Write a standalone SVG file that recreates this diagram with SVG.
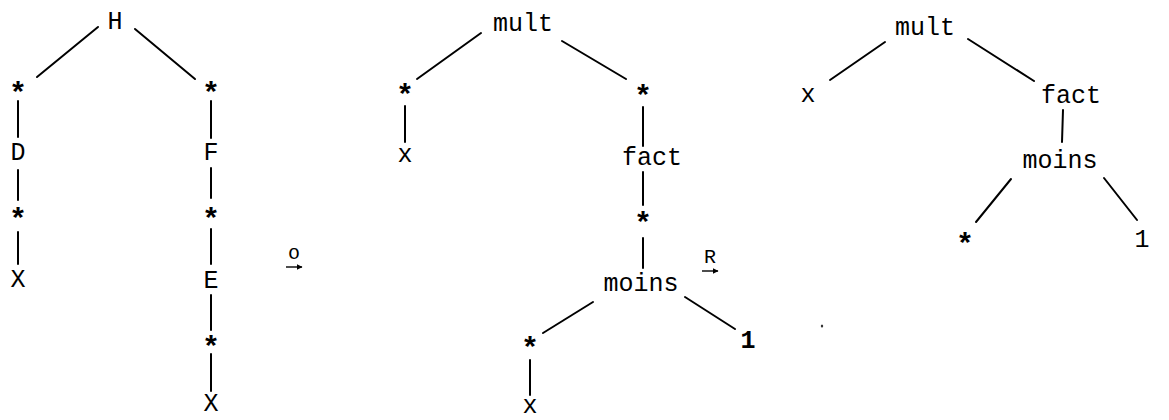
<svg xmlns="http://www.w3.org/2000/svg" width="1169" height="420" viewBox="0 0 1169 420">
  <style>
    .t { font-family: "Liberation Mono", "DejaVu Sans Mono", monospace; font-size: 25px; fill: #000; text-anchor: middle; dominant-baseline: central; }
    .s { font-family: "Liberation Mono", "DejaVu Sans Mono", monospace; font-size: 30px; font-weight: bold; fill: #000; text-anchor: middle; }
    .lab { font-family: "Liberation Mono", "DejaVu Sans Mono", monospace; font-size: 20px; fill: #000; text-anchor: middle; }
    .e { stroke: #000; stroke-width: 2; fill: none; stroke-linecap: round; }
    .a { stroke: #000; stroke-width: 1.4; fill: none; }
  </style>
  <defs>
    <marker id="ah" viewBox="0 0 10 10" refX="9" refY="5" markerWidth="4" markerHeight="4" orient="auto">
      <path d="M0,0 L10,5 L0,10 z" fill="#000"/>
    </marker>
  </defs>
  <rect width="1169" height="420" fill="#fff"/>

  <!-- edges of the three trees -->
  <g id="connectors">
    <!-- left tree -->
    <line class="e" x1="98" y1="27" x2="37" y2="77"/>
    <line class="e" x1="135" y1="29" x2="195" y2="79"/>
    <line class="e" x1="18" y1="101" x2="18" y2="137"/>
    <line class="e" x1="18" y1="170" x2="18" y2="200"/>
    <line class="e" x1="18" y1="232" x2="18" y2="264"/>
    <line class="e" x1="211" y1="101" x2="211" y2="138"/>
    <line class="e" x1="211" y1="168" x2="211" y2="198"/>
    <line class="e" x1="211" y1="229" x2="211" y2="264"/>
    <line class="e" x1="211" y1="295" x2="211" y2="330"/>
    <line class="e" x1="211" y1="354" x2="211" y2="391"/>
    <!-- middle tree -->
    <line class="e" x1="481" y1="33" x2="417" y2="79"/>
    <line class="e" x1="562" y1="41" x2="626" y2="79"/>
    <line class="e" x1="405" y1="106" x2="405" y2="142"/>
    <line class="e" x1="643" y1="107" x2="643" y2="146"/>
    <line class="e" x1="643" y1="172" x2="643" y2="205"/>
    <line class="e" x1="643" y1="238" x2="643" y2="268"/>
    <line class="e" x1="593" y1="302" x2="543" y2="333"/>
    <line class="e" x1="685" y1="297" x2="735" y2="329"/>
    <line class="e" x1="530" y1="360" x2="530" y2="395"/>
    <!-- right tree -->
    <line class="e" x1="885" y1="42" x2="830" y2="80"/>
    <line class="e" x1="968" y1="39" x2="1034" y2="81"/>
    <line class="e" x1="1063" y1="110" x2="1062" y2="142"/>
    <line class="e" x1="1011" y1="179" x2="976" y2="222"/>
    <line class="e" x1="1104" y1="178" x2="1137" y2="220"/>
  </g>

  <!-- left tree nodes -->
  <g id="l-H"><text class="t" x="115" y="22">H</text></g>
  <g id="l-s1"><text class="s" x="18" y="103">*</text></g>
  <g id="l-D"><text class="t" x="18" y="153">D</text></g>
  <g id="l-s2"><text class="s" x="18" y="229">*</text></g>
  <g id="l-X"><text class="t" x="18" y="280">X</text></g>
  <g id="l-s3"><text class="s" x="211" y="103">*</text></g>
  <g id="l-F"><text class="t" x="211" y="153">F</text></g>
  <g id="l-s4"><text class="s" x="211" y="229">*</text></g>
  <g id="l-E"><text class="t" x="211" y="281">E</text></g>
  <g id="l-s5"><text class="s" x="211" y="357">*</text></g>
  <g id="l-X2"><text class="t" x="211" y="404">X</text></g>

  <!-- rewrite arrows -->
  <g id="arrow-o">
    <text class="lab" x="294" y="259">o</text>
    <line class="a" x1="286" y1="267" x2="302" y2="267" marker-end="url(#ah)"/>
  </g>
  <g id="arrow-R">
    <text class="lab" x="710" y="263">R</text>
    <line class="a" x1="702" y1="271" x2="718" y2="271" marker-end="url(#ah)"/>
  </g>

  <!-- middle tree nodes -->
  <g id="m-mult"><text class="t" x="523" y="24">mult</text></g>
  <g id="m-s1"><text class="s" x="405" y="105">*</text></g>
  <g id="m-x"><text class="t" x="405" y="155">x</text></g>
  <g id="m-s2"><text class="s" x="643" y="106">*</text></g>
  <g id="m-fact"><text class="t" x="652" y="158">fact</text></g>
  <g id="m-s3"><text class="s" x="643" y="233">*</text></g>
  <g id="m-moins"><text class="t" x="641" y="284">moins</text></g>
  <g id="m-s4"><text class="s" x="530" y="358">*</text></g>
  <g id="m-x2"><text class="t" x="530" y="406">x</text></g>
  <g id="m-1"><text class="t" x="748" y="341" font-weight="bold">1</text></g>

  <!-- speck -->
  <ellipse cx="822" cy="326" rx="1.2" ry="1.6" fill="#333"/>

  <!-- right tree nodes -->
  <g id="r-mult"><text class="t" x="925" y="28">mult</text></g>
  <g id="r-x"><text class="t" x="808" y="95">x</text></g>
  <g id="r-fact"><text class="t" x="1071" y="96">fact</text></g>
  <g id="r-moins"><text class="t" x="1060" y="161">moins</text></g>
  <g id="r-s"><text class="s" x="965" y="254">*</text></g>
  <g id="r-1"><text class="t" x="1142" y="240">1</text></g>
</svg>
